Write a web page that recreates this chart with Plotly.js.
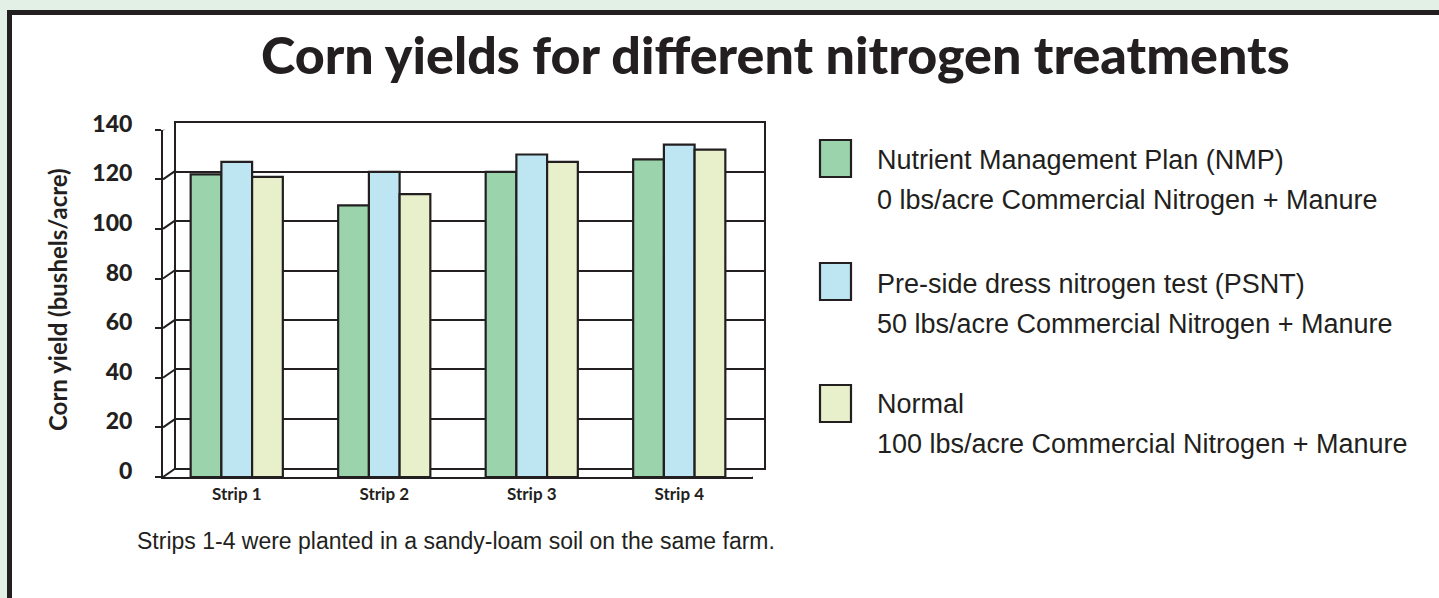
<!DOCTYPE html>
<html>
<head>
<meta charset="utf-8">
<script src="https://cdn.plot.ly/plotly-3.0.1.min.js"></script>
<style>
  html, body { margin: 0; padding: 0; background: #e2f0e6; }
  #chart { width: 1439px; height: 598px; }
</style>
</head>
<body>
<div id="chart"></div>
<script>
// ---- data ----
const strips = ["Strip 1", "Strip 2", "Strip 3", "Strip 4"];
const nmpYield = [122, 109.5, 123, 128];
const psntYield = [127, 123, 130, 134];
const normalYield = [121, 114, 127, 132];
const seriesNames = ["Nutrient Management Plan (NMP)", "Pre-side dress nitrogen test (PSNT)", "Normal"];
const seriesDetails = [
  "0 lbs/acre Commercial Nitrogen + Manure",
  "50 lbs/acre Commercial Nitrogen + Manure",
  "100 lbs/acre Commercial Nitrogen + Manure"
];
const seriesColors = ["#9bd3ad", "#bde5f2", "#e7efcb"];
const yTicks = [0, 20, 40, 60, 80, 100, 120, 140];
const chartTitle = "Corn yields for different nitrogen treatments";
const yTitle = "Corn yield (bushels/acre)";
const caption = "Strips 1-4 were planted in a sandy-loam soil on the same farm.";

// ---- layout helpers ----
const W = 1439, H = 598;
const px = x => x / W;
const py = y => 1 - y / H;
const ink = "#231f20";
const boldFont = "Lato, 'Open Sans', sans-serif";
const plainFont = "'Liberation Sans', Arial, sans-serif";

const seriesValues = [nmpYield, psntYield, normalYield];
const traces = seriesValues.map((vals, i) => ({
  type: "bar",
  x: strips,
  y: vals,
  name: seriesNames[i],
  xaxis: "x2",
  yaxis: "y2",
  marker: { color: seriesColors[i], line: { color: ink, width: 2.2 } },
  showlegend: false,
  hoverinfo: "x+y+name"
}));

// invisible trace to activate the back-wall subplot
traces.unshift({
  type: "scatter", x: [0], y: [0], xaxis: "x", yaxis: "y",
  mode: "markers", marker: { opacity: 0 }, showlegend: false, hoverinfo: "skip"
});

const shapes = [];
// white panel with thick border
shapes.push({
  type: "rect", xref: "paper", yref: "paper",
  x0: px(9.5), y0: py(12.5), x1: px(W + 20), y1: py(H + 20),
  fillcolor: "#ffffff", line: { color: ink, width: 5 }, layer: "below"
});
// diagonals joining front ticks to back-wall gridlines
yTicks.forEach(v => {
  shapes.push({
    type: "line", xref: "paper", yref: "y2", ysizemode: "pixel", yanchor: v,
    x0: px(163), x1: px(176), y0: 0, y1: 9,
    line: { color: ink, width: 2 }
  });
});
// floor right corner diagonal
shapes.push({
  type: "line", xref: "x2", xsizemode: "pixel", xanchor: strips.length - 0.5,
  yref: "y2", ysizemode: "pixel", yanchor: 0,
  x0: 0, x1: 11, y0: 0, y1: 9,
  line: { color: ink, width: 2 }
});
// legend swatches
const legendBoxTop = [140, 263, 385];
legendBoxTop.forEach((t, i) => {
  shapes.push({
    type: "rect", xref: "paper", yref: "paper",
    x0: px(820), x1: px(851), y0: py(t), y1: py(t + 37),
    fillcolor: seriesColors[i], line: { color: ink, width: 2.2 }
  });
});

const annotations = [];
annotations.push({
  xref: "paper", yref: "paper", x: px(775), y: py(54),
  xanchor: "center", yanchor: "middle", showarrow: false,
  text: chartTitle,
  font: { family: boldFont, size: 52, color: ink, weight: 900 }
});
annotations.push({
  xref: "paper", yref: "paper", x: px(57), y: py(300),
  xanchor: "center", yanchor: "middle", showarrow: false, textangle: -90,
  text: yTitle,
  font: { family: boldFont, size: 24, color: ink, weight: 700 }
});
annotations.push({
  xref: "paper", yref: "paper", x: px(456), y: py(541),
  xanchor: "center", yanchor: "middle", showarrow: false,
  text: caption,
  font: { family: plainFont, size: 23, color: ink }
});
const legendLine1 = [160, 284, 404];
seriesNames.forEach((n, i) => {
  annotations.push({
    xref: "paper", yref: "paper", x: px(875), y: py(legendLine1[i]),
    xanchor: "left", yanchor: "middle", showarrow: false,
    text: n, font: { family: plainFont, size: 27, color: ink }
  });
  annotations.push({
    xref: "paper", yref: "paper", x: px(875), y: py(legendLine1[i] + 40),
    xanchor: "left", yanchor: "middle", showarrow: false,
    text: seriesDetails[i], font: { family: plainFont, size: 27, color: ink }
  });
});

const layout = {
  width: W, height: H,
  margin: { l: 0, r: 0, t: 0, b: 0 },
  paper_bgcolor: "#e2f0e6",
  plot_bgcolor: "rgba(0,0,0,0)",
  showlegend: false,
  barmode: "group",
  bargap: 0.375,
  bargroupgap: 0,
  // back wall
  xaxis: {
    domain: [px(176), px(764)], anchor: "y", range: [0, 1],
    showgrid: false, zeroline: false, showticklabels: false, ticks: "",
    showline: true, mirror: true, linecolor: ink, linewidth: 2, fixedrange: true
  },
  yaxis: {
    domain: [py(468), py(122.5)], anchor: "x", range: [0, 140],
    tickvals: yTicks, showticklabels: false, ticks: "",
    showgrid: true, gridcolor: ink, gridwidth: 2, zeroline: false,
    showline: true, mirror: true, linecolor: ink, linewidth: 2, fixedrange: true
  },
  // front plane with bars
  xaxis2: {
    domain: [px(163), px(753)], anchor: "y2", type: "category",
    range: [-0.5, strips.length - 0.5],
    showgrid: false, zeroline: false, ticks: "",
    showline: true, linecolor: ink, linewidth: 2,
    tickfont: { family: boldFont, size: 17, color: ink, weight: 700 },
    ticklabelstandoff: 1, fixedrange: true
  },
  yaxis2: {
    domain: [py(477), py(129.7)], anchor: "x2", range: [0, 140],
    tickvals: yTicks, ticktext: yTicks.map(String),
    showgrid: false, zeroline: false,
    ticks: "outside", ticklen: 6, tickwidth: 2, tickcolor: ink,
    showline: true, linecolor: ink, linewidth: 2,
    tickfont: { family: boldFont, size: 23, color: ink, weight: 900 },
    ticklabelstandoff: 18, ticklabelshift: -6, fixedrange: true
  },
  shapes: shapes,
  annotations: annotations
};

Plotly.newPlot("chart", traces, layout, { displayModeBar: false, staticPlot: true });
</script>
</body>
</html>
